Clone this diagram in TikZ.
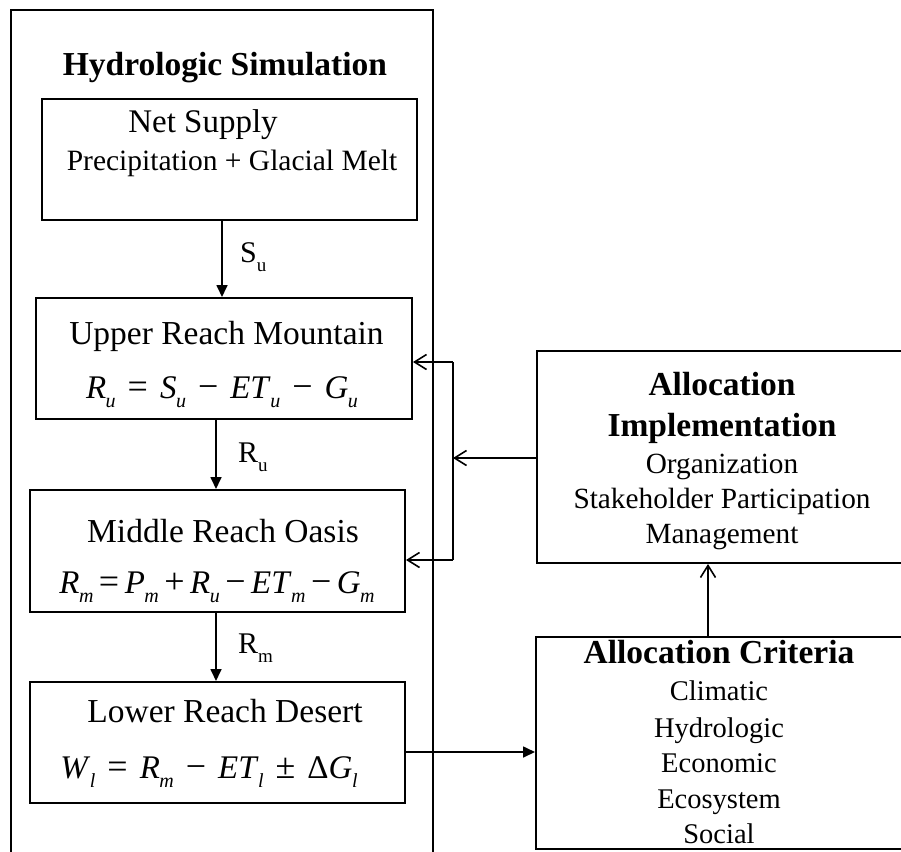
\documentclass[tikz,border=0pt]{standalone}
\usepackage{fontspec}
\setmainfont{Liberation Serif}
\usetikzlibrary{arrows.meta}
\newcommand{\fsz}[1]{\fontsize{#1}{#1}\selectfont}
\newcommand{\vv}[2]{\textit{#1}\kern-0.5pt\raisebox{-0.3em}{\fsz{20}\textit{#2}}}
\newcommand{\lb}[2]{#1\raisebox{-0.3em}{\fsz{19}#2}}
\newcommand{\op}[1]{\hspace{12pt}{\fsz{36}#1}\hspace{12pt}}
\begin{document}
\begin{tikzpicture}[x=1pt,y=-1pt,
  box/.style={draw=black,line width=2pt,rectangle,inner sep=0pt},
  frame/.style={draw=black,line width=2.2pt,rectangle,inner sep=0pt},
  txt/.style={inner sep=0pt,anchor=base},
  conn/.style={line width=1.7pt},
  fa/.style={conn,-{Triangle[length=12pt,width=11pt]}},
  oa/.style={conn,-{Straight Barb[length=12pt,width=15pt,line width=1.6pt]}}]
\useasboundingbox (0,0) rectangle (901,851);
\fill[white] (0,0) rectangle (901,851);
\clip (0,0) rectangle (901,851);
% outer frame
\node[frame,minimum width=422pt,minimum height=890pt] (frm) at (222,455) {};
% boxes
\node[box,minimum width=375pt,minimum height=121pt] (net) at (229.5,159.5) {};
\node[box,minimum width=376pt,minimum height=121pt] (upper) at (224,358.5) {};
\node[box,minimum width=375pt,minimum height=122pt] (middle) at (217.5,551) {};
\node[box,minimum width=375pt,minimum height=121pt] (lower) at (217.5,742.5) {};
\node[box,minimum width=423pt,minimum height=212pt] (impl) at (748.5,457) {};
\node[box,minimum width=424pt,minimum height=212pt] (crit) at (748,743) {};
% texts
\node[txt] (ttl) at (225,75) {\fsz{33.5}\bfseries Hydrologic Simulation};
\node[txt] (t1) at (203,132) {\fsz{33}Net Supply};
\node[txt] (t2) at (232,170) {\fsz{29.5}Precipitation + Glacial Melt};
\node[txt] (t3) at (226.5,344) {\fsz{33.5}Upper Reach Mountain};
\node[txt] (e1) at (222,398) {\fsz{33}\vv{R}{u}\op{=}\vv{S}{u}\op{−}\vv{ET}{u}\op{−}\vv{G}{u}};
\node[txt] (t4) at (223,542) {\fsz{33.5}Middle Reach Oasis};
\node[txt] (e2) at (217,593) {\fsz{33}\vv{R}{m}\,{\fsz{36}=}\,\vv{P}{m}\,{\fsz{36}+}\,\vv{R}{u}\,{\fsz{36}−}\,\vv{ET}{m}\,{\fsz{36}−}\,\vv{G}{m}};
\node[txt] (t5) at (225,722) {\fsz{33.5}Lower Reach Desert};
\node[txt] (e3) at (209,778) {\fsz{33}\vv{W}{l}\op{=}\vv{R}{m}\op{−}\vv{ET}{l}\op{±}Δ\vv{G}{l}};
\node[txt,anchor=base west] (lsu) at (240,262) {\fsz{30}\lb{S}{u}};
\node[txt,anchor=base west] (lru) at (238,462) {\fsz{30}\lb{R}{u}};
\node[txt,anchor=base west] (lrm) at (238,653) {\fsz{30}\lb{R}{m}};
\node[txt] (i1) at (722,395) {\fsz{33.5}\bfseries Allocation};
\node[txt] (i2) at (722,436) {\fsz{33.5}\bfseries Implementation};
\node[txt] (i3) at (722,473) {\fsz{29.3}Organization};
\node[txt] (i4) at (722,508) {\fsz{29.3}Stakeholder Participation};
\node[txt] (i5) at (722,543) {\fsz{29.3}Management};
\node[txt] (c0) at (719,663) {\fsz{33.5}\bfseries Allocation Criteria};
\node[txt] (c1) at (719,700) {\fsz{28.5}Climatic};
\node[txt] (c2) at (719,737) {\fsz{28.5}Hydrologic};
\node[txt] (c3) at (719,772) {\fsz{28.5}Economic};
\node[txt] (c4) at (719,808) {\fsz{28.5}Ecosystem};
\node[txt] (c5) at (719,843) {\fsz{28.5}Social};
% connectors
\coordinate (xsu) at (222,0);
\coordinate (xr) at (216,0);
\coordinate (yl) at (0,752);
\coordinate (xc) at (708,0);
\coordinate (fb1) at (453,362);
\coordinate (fbm) at (453,458);
\coordinate (fb2) at (453,560);
\draw[fa] (net.south -| xsu) -- (upper.north -| xsu);
\draw[fa] (upper.south -| xr) -- (middle.north -| xr);
\draw[fa] (middle.south -| xr) -- (lower.north -| xr);
\draw[fa] (lower.east |- yl) -- (crit.west |- yl);
\draw[oa] (crit.north -| xc) -- (impl.south -| xc);
\draw[conn] (fb1) -- (fb2);
\draw[oa] (fb1) -- (upper.east |- fb1);
\draw[oa] (fb2) -- (middle.east |- fb2);
\draw[oa] (impl.west |- fbm) -- (fbm);
\end{tikzpicture}
\end{document}
